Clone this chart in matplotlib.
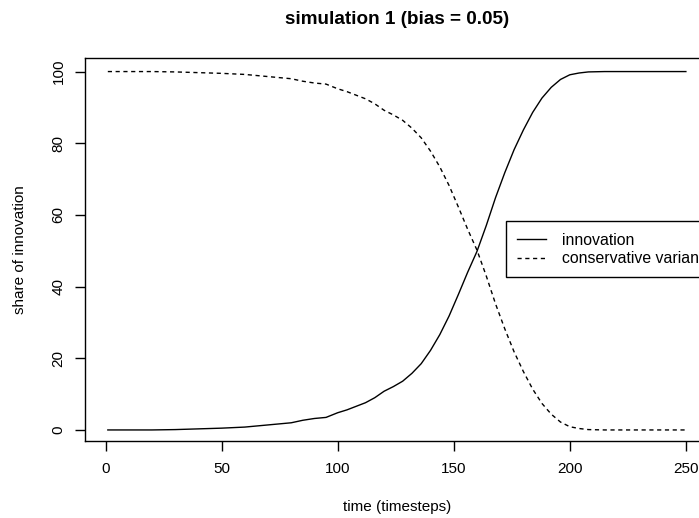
import matplotlib
matplotlib.use("Agg")
import matplotlib.pyplot as plt

plt.rcParams['font.family'] = ['Liberation Sans', 'DejaVu Sans']

# values
time = [1, 10, 20, 30, 40, 50, 60, 70, 80, 85, 90, 95, 100, 104, 108, 112,
        116, 120, 124, 128, 132, 136, 140, 144, 148, 152, 156, 160, 164, 168,
        172, 176, 180, 184, 188, 192, 196, 200, 204, 208, 215, 230, 250]
innovation = [0.0, 0.0, 0.0, 0.1, 0.3, 0.5, 0.8, 1.4, 2.0, 2.7, 3.2, 3.5,
              4.8, 5.6, 6.6, 7.6, 9.0, 10.8, 12.1, 13.6, 15.8, 18.5, 22.2,
              26.6, 31.8, 37.8, 44.0, 49.8, 57.0, 64.8, 71.8, 78.2, 83.7,
              88.6, 92.6, 95.6, 97.8, 99.1, 99.6, 99.9, 100.0, 100.0, 100.0]
conservative = [100.0, 100.0, 100.0, 99.9, 99.7, 99.5, 99.2, 98.6, 98.0,
                97.3, 96.8, 96.5, 95.2, 94.4, 93.4, 92.4, 91.0, 89.2, 87.9,
                86.4, 84.2, 81.5, 77.8, 73.4, 68.2, 62.2, 56.0, 50.2, 43.0,
                35.2, 28.2, 21.8, 16.3, 11.4, 7.4, 4.4, 2.2, 0.9, 0.4, 0.1,
                0.0, 0.0, 0.0]
xticks = [0, 50, 100, 150, 200, 250]
yticks = [0, 20, 40, 60, 80, 100]

W, H = 699, 518
fig = plt.figure(figsize=(W / 100, H / 100), dpi=100)
left, right, top, bottom = 84.7, 709.0, 58.3, 440.7
ax = fig.add_axes([left / W, 1 - bottom / H, (right - left) / W, (bottom - top) / H])

ax.plot(time, innovation, color='black', lw=1.0, label='innovation')
ax.plot(time, conservative, color='black', lw=1.0, dashes=(3, 2.6),
        label='conservative variant')

ax.set_xlim(-8.96, 259.96)
ax.set_ylim(-3.0, 103.7)
ax.set_xticks(xticks)
ax.set_yticks(yticks)
for s in ax.spines.values():
    s.set_linewidth(1.0)
ax.tick_params(axis='both', direction='out', length=7.2, width=1.0, labelsize=11)
ax.tick_params(axis='x', pad=8.2)
ax.tick_params(axis='y', pad=6.5, labelrotation=90)
for lab in ax.get_yticklabels():
    lab.set_verticalalignment('center')

leg = ax.legend(loc='upper left', bbox_to_anchor=(0.6749, 0.5740), borderaxespad=0,
                fontsize=11.4, frameon=True, fancybox=False, framealpha=1,
                edgecolor='black', handlelength=1.8, handletextpad=1.0,
                borderpad=0.72, labelspacing=0.22)
leg.get_frame().set_linewidth(1.0)

cx = (left + right) / 2 / W
fig.text(cx, 1 - 20 / H, 'simulation 1 (bias = 0.05)', ha='center', va='center',
         fontsize=13.6, fontweight='bold')
fig.text(cx, 1 - 507 / H, 'time (timesteps)', ha='center', va='center', fontsize=11)
fig.text(20 / W, 1 - (top + bottom) / 2 / H, 'share of innovation', ha='center',
         va='center', rotation=90, fontsize=11)

fig.savefig('out.png', dpi=100)
